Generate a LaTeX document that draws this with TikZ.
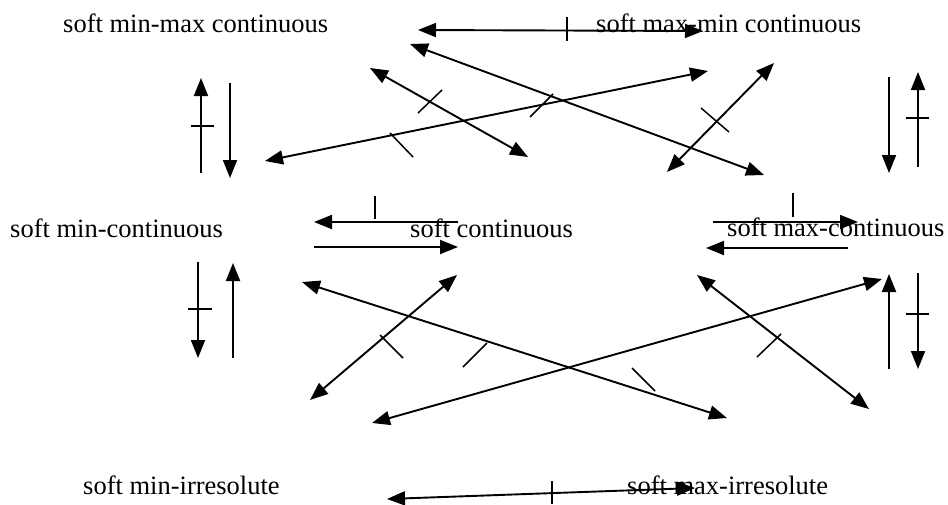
\documentclass[tikz,border=0pt]{standalone}
\usepackage{fontspec}
\setmainfont{Liberation Serif}
\usetikzlibrary{arrows.meta}
\begin{document}
\begin{tikzpicture}[x=1pt,y=-1pt,
  lbl/.style={anchor=base west, inner sep=0pt, font=\fontsize{26.5}{30}\selectfont},
  arr/.style={line width=1.9pt, -{Triangle[length=18pt,width=14pt]}},
  darr/.style={line width=1.9pt, {Triangle[length=18pt,width=14pt]}-{Triangle[length=18pt,width=14pt]}},
  tickmark/.style={line width=1.5pt}]
\useasboundingbox (0,0) rectangle (948,504);
% labels
\node[lbl] (mmc) at (63,32) {soft min-max continuous};
\node[lbl] (mxc) at (596,32) {soft max-min continuous};
\node[lbl] (minc) at (10,237) {soft min-continuous};
\node[lbl] (sc) at (410,237) {soft continuous};
\node[lbl] (maxc) at (727,236) {soft max-continuous};
\node[lbl] (mini) at (83,494) {soft min-irresolute};
\node[lbl] (maxi) at (627,494) {soft max-irresolute};
% endpoints
\coordinate (a1s) at (418,30); \coordinate (a1e) at (703,31);
\coordinate (a2s) at (410,44); \coordinate (a2e) at (764,175);
\coordinate (a3s) at (265,161); \coordinate (a3e) at (708,71);
\coordinate (a4s) at (370,68); \coordinate (a4e) at (528,157);
\coordinate (a5s) at (667,172); \coordinate (a5e) at (774,63);
\coordinate (l1s) at (201,173); \coordinate (l1e) at (201,78);
\coordinate (l2s) at (230,83); \coordinate (l2e) at (230,178);
\coordinate (r1s) at (889,77); \coordinate (r1e) at (889,173);
\coordinate (r2s) at (918,167); \coordinate (r2e) at (918,72);
\coordinate (m1s) at (458,222); \coordinate (m1e) at (314,222);
\coordinate (m2s) at (314,247); \coordinate (m2e) at (458,247);
\coordinate (m3s) at (713,222); \coordinate (m3e) at (858,222);
\coordinate (m4s) at (848,248); \coordinate (m4e) at (706,248);
\coordinate (l3s) at (198,262); \coordinate (l3e) at (198,358);
\coordinate (l4s) at (233,358); \coordinate (l4e) at (233,263);
\coordinate (r3s) at (889,369); \coordinate (r3e) at (889,274);
\coordinate (r4s) at (918,273); \coordinate (r4e) at (918,369);
\coordinate (b1s) at (302,282); \coordinate (b1e) at (727,418);
\coordinate (b2s) at (310,400); \coordinate (b2e) at (457,275);
\coordinate (b3s) at (372,423); \coordinate (b3e) at (882,279);
\coordinate (b4s) at (697,275); \coordinate (b4e) at (869,409);
\coordinate (b5s) at (387,499); \coordinate (b5e) at (695,488);
% arrows
\draw[darr] (a1s) -- (a1e);
\draw[darr] (a2s) -- (a2e);
\draw[darr] (a3s) -- (a3e);
\draw[darr] (a4s) -- (a4e);
\draw[darr] (a5s) -- (a5e);
\draw[arr] (l1s) -- (l1e);
\draw[arr] (l2s) -- (l2e);
\draw[arr] (r1s) -- (r1e);
\draw[arr] (r2s) -- (r2e);
\draw[arr] (m1s) -- (m1e);
\draw[arr] (m2s) -- (m2e);
\draw[arr] (m3s) -- (m3e);
\draw[arr] (m4s) -- (m4e);
\draw[arr] (l3s) -- (l3e);
\draw[arr] (l4s) -- (l4e);
\draw[arr] (r3s) -- (r3e);
\draw[arr] (r4s) -- (r4e);
\draw[darr] (b1s) -- (b1e);
\draw[darr] (b2s) -- (b2e);
\draw[darr] (b3s) -- (b3e);
\draw[darr] (b4s) -- (b4e);
\draw[darr] (b5s) -- (b5e);
% tick marks
\draw[tickmark] (567,17) -- (567,41);
\draw[tickmark] (390,133) -- (413,157);
\draw[tickmark] (530,117) -- (553,94);
\draw[tickmark] (418,113) -- (442,90);
\draw[tickmark] (701,108) -- (729,132);
\draw[tickmark] (191,126) -- (214,126);
\draw[tickmark] (906,118) -- (929,118);
\draw[tickmark] (375,196) -- (375,219);
\draw[tickmark] (793,193) -- (793,217);
\draw[tickmark] (188,309) -- (212,309);
\draw[tickmark] (906,314) -- (929,314);
\draw[tickmark] (463,367) -- (487,343);
\draw[tickmark] (632,368) -- (655,391);
\draw[tickmark] (380,335) -- (403,358);
\draw[tickmark] (757,357) -- (781,334);
\draw[tickmark] (552,481) -- (552,504);
\end{tikzpicture}
\end{document}
